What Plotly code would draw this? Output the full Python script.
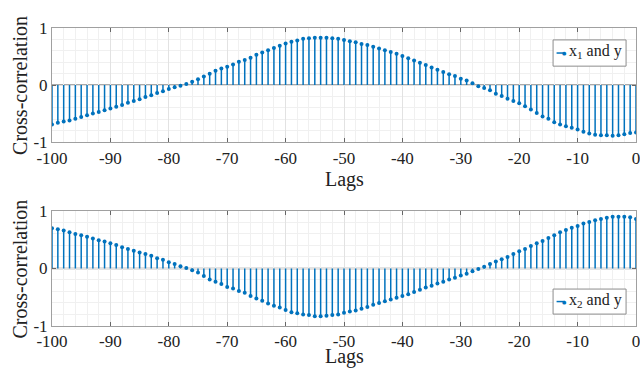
import plotly.graph_objects as go

lags = list(range(-100, 1))

# x1 and y cross-correlation (lags -100 .. 0)
xc1 = [-0.69, -0.66, -0.64, -0.62, -0.59, -0.56, -0.53, -0.50, -0.47, -0.44,
       -0.41, -0.38, -0.35, -0.31, -0.28, -0.25, -0.21, -0.18, -0.14, -0.11,
       -0.07, -0.04, -0.01, 0.02, 0.06, 0.10, 0.15, 0.20, 0.25, 0.29,
       0.32, 0.36, 0.41, 0.44, 0.48, 0.53, 0.57, 0.61, 0.65, 0.69,
       0.73, 0.76, 0.78, 0.81, 0.82, 0.83, 0.83, 0.83, 0.82, 0.81,
       0.79, 0.77, 0.75, 0.72, 0.70, 0.67, 0.64, 0.61, 0.58, 0.55,
       0.51, 0.47, 0.43, 0.39, 0.35, 0.31, 0.27, 0.23, 0.19, 0.16,
       0.11, 0.08, 0.03, -0.02, -0.05, -0.09, -0.15, -0.19, -0.24, -0.28,
       -0.32, -0.37, -0.43, -0.49, -0.55, -0.59, -0.65, -0.69, -0.72, -0.75,
       -0.78, -0.82, -0.85, -0.87, -0.88, -0.88, -0.89, -0.88, -0.86, -0.84,
       -0.83]

# x2 and y cross-correlation (lags -100 .. 0)
xc2 = [0.70, 0.68, 0.66, 0.63, 0.60, 0.58, 0.55, 0.52, 0.49, 0.47,
       0.44, 0.41, 0.37, 0.34, 0.31, 0.28, 0.25, 0.22, 0.18, 0.15,
       0.11, 0.08, 0.04, 0.01, -0.03, -0.07, -0.13, -0.19, -0.23, -0.27,
       -0.32, -0.35, -0.39, -0.42, -0.48, -0.52, -0.56, -0.61, -0.65, -0.68,
       -0.72, -0.76, -0.78, -0.80, -0.81, -0.83, -0.83, -0.82, -0.81, -0.80,
       -0.77, -0.75, -0.73, -0.70, -0.67, -0.63, -0.60, -0.57, -0.54, -0.51,
       -0.48, -0.45, -0.41, -0.37, -0.33, -0.30, -0.26, -0.23, -0.19, -0.16,
       -0.12, -0.09, -0.05, -0.01, 0.03, 0.08, 0.12, 0.16, 0.20, 0.25,
       0.30, 0.34, 0.39, 0.44, 0.48, 0.53, 0.58, 0.63, 0.67, 0.71,
       0.74, 0.78, 0.81, 0.84, 0.86, 0.88, 0.90, 0.90, 0.90, 0.89,
       0.86]

x_ticks = [-100, -90, -80, -70, -60, -50, -40, -30, -20, -10, 0]
x_ticktext = ["-100", "-90", "-80", "-70", "-60", "-50", "-40", "-30", "-20", "-10", "0"]
y_ticks = [-1, 0, 1]
y_ticktext = ["-1", "0", "1"]
series_names = ["x<sub>1</sub> and y", "x<sub>2</sub> and y"]

BLUE = "#0072BD"
FONT = "Liberation Serif, Times New Roman, serif"
TXT = "#222222"


def stems(lx, vals):
    xs, ys = [], []
    for l, v in zip(lx, vals):
        xs += [l, l, None]
        ys += [0, v, None]
    return xs, ys


fig = go.Figure()
for i, vals in enumerate([xc1, xc2]):
    xa = "x" if i == 0 else "x2"
    ya = "y" if i == 0 else "y2"
    sx, sy = stems(lags, vals)
    fig.add_trace(go.Scatter(x=sx, y=sy, mode="lines", xaxis=xa, yaxis=ya,
                             line=dict(color=BLUE, width=1.5), showlegend=False,
                             hoverinfo="skip"))
    fig.add_trace(go.Scatter(x=lags, y=vals, mode="markers", xaxis=xa, yaxis=ya,
                             marker=dict(color=BLUE, size=4), showlegend=False,
                             name=series_names[i]))

axis_common = dict(
    showline=True, linecolor="#a0a0a0", linewidth=1, mirror="all",
    ticks="inside", ticklen=4, tickcolor="#666666",
    showgrid=True, gridcolor="#e2e2e2", gridwidth=1,
    tickfont=dict(family=FONT, size=17, color=TXT),
    zeroline=False, automargin=False, ticklabeloverflow="allow",
)

xaxis = dict(axis_common, range=[-100, 0], tickvals=x_ticks, ticktext=x_ticktext,
             minor=dict(dtick=2, showgrid=True, gridcolor="#f0f0f0", ticks=""))
yaxis = dict(axis_common, range=[-1, 1], tickvals=y_ticks, ticktext=y_ticktext,
             minor=dict(dtick=0.2, showgrid=True, gridcolor="#f0f0f0", ticks=""))

fig.update_layout(
    width=640, height=374,
    margin=dict(l=52, r=4, t=28, b=48),
    paper_bgcolor="white", plot_bgcolor="white",
    xaxis=dict(xaxis, domain=[0, 1], anchor="y"),
    yaxis=dict(yaxis, domain=[0.617, 1], anchor="x"),
    xaxis2=dict(xaxis, domain=[0, 1], anchor="y2"),
    yaxis2=dict(yaxis, domain=[0, 0.386], anchor="x2"),
    showlegend=False,
)

# stem baseline at zero
for ya in ["y", "y2"]:
    fig.add_shape(type="line", xref="paper", yref=ya, x0=0, x1=1, y0=0, y1=0,
                  line=dict(color="#8c8c8c", width=1.5), layer="below")

# axis titles
for yc, yl in [(0.809, 0.493), (0.193, -0.104)]:
    fig.add_annotation(xref="paper", yref="paper", x=-0.0548, y=yc, text="Cross-correlation",
                       textangle=-90, showarrow=False, xanchor="center", yanchor="middle",
                       font=dict(family=FONT, size=20, color=TXT))
    fig.add_annotation(xref="paper", yref="paper", x=0.5, y=yl, text="Lags",
                       showarrow=False, xanchor="center", yanchor="middle",
                       font=dict(family=FONT, size=20, color=TXT))

# legend boxes (drawn like MATLAB legends)
legend_boxes = [(0.960, 0.872), (0.124, 0.040)]
for (yt, yb), name in zip(legend_boxes, series_names):
    ym = (yt + yb) / 2
    fig.add_shape(type="rect", xref="paper", yref="paper", x0=0.858, x1=0.983, y0=yb, y1=yt,
                  line=dict(color="#8c8c8c", width=1), fillcolor="white", layer="above")
    fig.add_shape(type="line", xref="paper", yref="paper", x0=0.864, x1=0.878, y0=ym, y1=ym,
                  line=dict(color=BLUE, width=1.5), layer="above")
    fig.add_annotation(xref="paper", yref="paper", x=0.878, y=ym, text="●", showarrow=False,
                       xanchor="center", yanchor="middle",
                       font=dict(family="DejaVu Sans", size=5, color=BLUE))
    fig.add_annotation(xref="paper", yref="paper", x=0.882, y=ym + 0.004, text=name,
                       showarrow=False, xanchor="left", yanchor="middle",
                       font=dict(family=FONT, size=16, color=TXT))

fig.write_html("out.html", config={"displayModeBar": False},
               post_script="document.body.style.margin='0';document.body.style.overflow='hidden';")
